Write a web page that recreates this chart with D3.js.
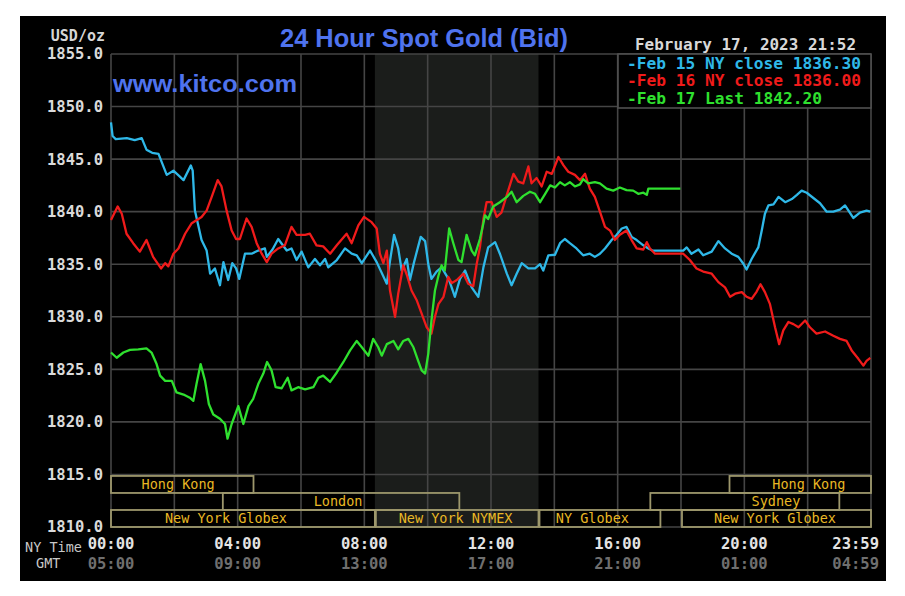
<!DOCTYPE html>
<html>
<head>
<meta charset="utf-8">
<script src="https://cdn.jsdelivr.net/npm/d3@7"></script>
<style>
  html, body { margin: 0; padding: 0; background: #ffffff; }
  svg { display: block; }
</style>
</head>
<body>
<svg id="chart" width="905" height="596"></svg>
<script>
// ---------------- DATA ----------------
const yTicks = [1855, 1850, 1845, 1840, 1835, 1830, 1825, 1820, 1815, 1810];
const gridHours = [0, 2, 4, 6, 8, 10, 12, 14, 16, 18, 20, 22, 24];
const labelHours = [0, 4, 8, 12, 16, 20, 24];
const nyTimeLabels = ["00:00", "04:00", "08:00", "12:00", "16:00", "20:00", "23:59"];
const gmtLabels = ["05:00", "09:00", "13:00", "17:00", "21:00", "01:00", "04:59"];

const nymexStart = 8.333, nymexEnd = 13.5;

const sessionNames = ["Hong Kong", "Hong Kong", "London", "Sydney", "New York Globex", "New York NYMEX", "NY Globex", "New York Globex"];
const sessionStart = [0, 19.5, 3.5, 17, 0, 8.333, 13.5, 18];
const sessionEnd   = [4.5, 24, 11, 23, 8.333, 13.5, 17.35, 24];
const sessionRow   = [0, 0, 1, 1, 2, 2, 2, 2];
const sessionLabelHour = [2.12, 22.04, 7.17, 21.0, 3.63, 10.88, 15.2, 20.97];

const seriesNames = ["Feb 15 NY close 1836.30", "Feb 16 NY close 1836.00", "Feb 17 Last 1842.20"];

// [hour (NY time), price]
const feb15 = [[0.00,1848.5],[0.05,1847.2],[0.15,1846.9],[0.5,1847.0],[0.75,1846.8],[0.97,1847.0],[1.12,1845.9],[1.3,1845.6],[1.5,1845.5],[1.76,1843.5],[1.97,1843.9],[2.15,1843.4],[2.29,1843.0],[2.52,1844.4],[2.58,1843.9],[2.65,1840.1],[2.86,1837.3],[3.02,1836.3],[3.13,1834.1],[3.28,1834.6],[3.44,1833.0],[3.55,1835.2],[3.70,1833.5],[3.83,1835.1],[3.95,1834.6],[4.05,1833.6],[4.23,1836.0],[4.44,1836.0],[4.65,1836.3],[4.86,1836.5],[4.92,1835.7],[5.10,1836.4],[5.28,1837.4],[5.55,1836.3],[5.70,1836.5],[5.86,1835.4],[6.02,1836.2],[6.23,1834.7],[6.44,1835.5],[6.6,1834.9],[6.76,1835.5],[6.86,1834.7],[7.13,1835.4],[7.39,1836.5],[7.6,1836.0],[7.76,1835.85],[7.92,1835.1],[8.18,1836.3],[8.39,1835.2],[8.71,1833.15],[8.81,1835.3],[8.94,1837.8],[9.07,1836.5],[9.18,1834.4],[9.34,1835.5],[9.44,1833.5],[9.57,1835.2],[9.78,1837.6],[9.92,1837.2],[10.02,1835.0],[10.12,1833.6],[10.28,1834.3],[10.44,1834.7],[10.6,1833.9],[10.7,1833.3],[10.86,1831.9],[11.02,1833.6],[11.18,1834.4],[11.39,1832.8],[11.6,1831.9],[11.76,1834.7],[11.91,1836.6],[12.13,1837.1],[12.28,1836.0],[12.5,1834.1],[12.65,1833.0],[12.81,1834.1],[12.97,1835.1],[13.18,1834.6],[13.39,1834.6],[13.55,1835.0],[13.65,1834.4],[13.81,1835.85],[14.02,1835.9],[14.18,1837.0],[14.33,1837.4],[14.49,1837.0],[14.7,1836.5],[14.91,1835.85],[15.12,1836.0],[15.28,1835.7],[15.44,1836.0],[15.6,1836.5],[15.81,1837.3],[15.97,1837.8],[16.13,1838.4],[16.28,1838.55],[16.44,1837.6],[16.6,1837.3],[16.81,1836.8],[16.97,1836.5],[17.1,1836.3],[18.07,1836.3],[18.18,1836.6],[18.33,1836.0],[18.55,1836.4],[18.7,1835.85],[18.97,1836.2],[19.18,1837.2],[19.39,1836.5],[19.6,1836.0],[19.81,1835.7],[19.97,1835.05],[20.07,1834.5],[20.23,1835.5],[20.44,1836.6],[20.55,1838.2],[20.65,1839.8],[20.76,1840.6],[20.92,1840.7],[21.08,1841.4],[21.29,1840.9],[21.5,1841.2],[21.66,1841.6],[21.81,1842.0],[21.97,1841.8],[22.18,1841.3],[22.39,1840.8],[22.6,1840.0],[22.81,1840.0],[23.02,1840.2],[23.18,1840.6],[23.44,1839.4],[23.65,1839.9],[23.86,1840.1],[23.98,1840.0]];

const feb16 = [[0.00,1839.2],[0.21,1840.5],[0.34,1839.8],[0.49,1837.9],[0.7,1837.0],[0.91,1836.2],[1.12,1837.3],[1.33,1835.7],[1.58,1834.6],[1.71,1835.1],[1.81,1834.8],[1.97,1836.0],[2.13,1836.5],[2.34,1837.9],[2.55,1838.9],[2.86,1839.5],[3.02,1840.1],[3.18,1841.4],[3.37,1843.0],[3.49,1842.4],[3.65,1840.1],[3.81,1838.2],[3.95,1837.4],[4.07,1837.4],[4.28,1839.35],[4.44,1838.55],[4.6,1837.0],[4.76,1836.0],[4.92,1835.2],[5.07,1836.0],[5.28,1836.5],[5.49,1836.8],[5.7,1838.55],[5.86,1837.8],[6.13,1837.8],[6.28,1837.9],[6.49,1836.8],[6.7,1836.7],[6.92,1836.0],[7.13,1836.8],[7.44,1837.9],[7.6,1837.0],[7.81,1838.7],[7.99,1839.5],[8.23,1839.0],[8.39,1838.4],[8.49,1836.0],[8.6,1835.1],[8.71,1836.3],[8.81,1832.5],[8.97,1830.0],[9.07,1832.2],[9.23,1834.9],[9.34,1834.0],[9.49,1832.5],[9.65,1831.6],[9.81,1830.3],[9.97,1829.0],[10.12,1828.4],[10.23,1830.0],[10.34,1831.2],[10.5,1831.9],[10.65,1833.8],[10.76,1833.2],[10.92,1833.5],[11.13,1834.1],[11.28,1833.15],[11.44,1832.9],[11.55,1835.05],[11.65,1836.6],[11.76,1839.3],[11.86,1840.9],[12.02,1840.9],[12.18,1839.5],[12.33,1839.9],[12.5,1841.6],[12.71,1843.6],[12.86,1842.85],[13.02,1842.7],[13.18,1844.3],[13.28,1842.7],[13.44,1843.2],[13.6,1842.4],[13.76,1843.8],[13.92,1843.6],[14.13,1845.2],[14.29,1844.4],[14.44,1843.8],[14.65,1843.5],[14.81,1843.0],[14.97,1843.6],[15.12,1842.2],[15.28,1841.4],[15.44,1840.0],[15.6,1838.55],[15.76,1838.2],[15.91,1837.3],[16.07,1837.8],[16.28,1838.2],[16.44,1837.3],[16.6,1836.5],[16.81,1836.4],[16.92,1837.1],[17.02,1836.5],[17.18,1836.0],[18.07,1836.0],[18.28,1835.4],[18.49,1834.6],[18.7,1834.3],[18.97,1834.1],[19.18,1833.3],[19.39,1832.8],[19.55,1831.9],[19.71,1832.2],[19.92,1832.35],[20.07,1831.9],[20.23,1831.7],[20.39,1832.4],[20.51,1833.1],[20.65,1832.35],[20.81,1831.2],[20.97,1829.0],[21.1,1827.4],[21.23,1828.7],[21.39,1829.5],[21.55,1829.3],[21.71,1829.0],[21.92,1829.65],[22.07,1829.0],[22.28,1828.4],[22.55,1828.6],[22.81,1828.2],[23.02,1827.9],[23.23,1827.7],[23.39,1826.8],[23.6,1826.0],[23.76,1825.35],[23.86,1825.8],[23.98,1826.1]];

const feb17 = [[0.00,1826.6],[0.18,1826.1],[0.39,1826.6],[0.6,1826.85],[0.86,1826.9],[1.12,1827.0],[1.28,1826.6],[1.44,1825.5],[1.55,1824.4],[1.71,1823.9],[1.92,1823.9],[2.07,1822.8],[2.29,1822.6],[2.49,1822.3],[2.6,1822.0],[2.7,1823.6],[2.83,1825.5],[2.97,1823.9],[3.09,1821.7],[3.23,1820.7],[3.44,1820.3],[3.6,1819.8],[3.68,1818.4],[3.81,1819.8],[4.02,1821.5],[4.18,1819.8],[4.34,1821.5],[4.49,1822.2],[4.65,1823.6],[4.81,1824.6],[4.93,1825.7],[5.07,1824.9],[5.2,1823.3],[5.39,1823.2],[5.58,1824.2],[5.7,1823.0],[5.91,1823.3],[6.13,1823.1],[6.39,1823.3],[6.55,1824.2],[6.7,1824.4],[6.92,1823.8],[7.13,1824.7],[7.34,1825.7],[7.55,1826.8],[7.76,1827.7],[7.92,1827.1],[8.13,1826.3],[8.28,1827.9],[8.44,1827.1],[8.55,1826.3],[8.71,1827.4],[8.92,1827.7],[9.07,1826.9],[9.23,1827.7],[9.39,1827.9],[9.55,1827.1],[9.7,1825.8],[9.81,1824.9],[9.92,1824.6],[10.02,1826.5],[10.12,1829.65],[10.23,1832.5],[10.34,1833.9],[10.44,1834.9],[10.54,1834.4],[10.68,1838.4],[10.81,1837.0],[10.97,1835.4],[11.07,1835.2],[11.23,1837.8],[11.39,1836.3],[11.49,1835.85],[11.65,1837.4],[11.76,1838.9],[11.81,1839.65],[11.91,1839.3],[12.07,1840.5],[12.28,1840.9],[12.5,1841.4],[12.65,1841.9],[12.81,1840.9],[13.02,1841.5],[13.23,1841.9],[13.39,1841.7],[13.55,1840.9],[13.71,1841.7],[13.87,1842.5],[14.02,1842.3],[14.18,1842.8],[14.33,1842.5],[14.49,1842.8],[14.65,1842.4],[14.81,1842.6],[14.91,1843.1],[15.07,1842.7],[15.28,1842.8],[15.44,1842.7],[15.65,1842.2],[15.86,1842.0],[16.07,1842.3],[16.28,1842.05],[16.49,1842.0],[16.65,1841.7],[16.81,1841.8],[16.92,1841.6],[16.97,1842.2],[17.98,1842.2]];

// ---------------- DRAW ----------------
const svg = d3.select("#chart");
const W = 905, H = 596;
const plot = { left: 111, right: 871, top: 54, bottom: 527 };

const x = d3.scaleLinear().domain([0, 24]).range([plot.left, plot.right]);
const y = d3.scaleLinear().domain([1810, 1855]).range([plot.bottom, plot.top]);

const mono = "'DejaVu Sans Mono', 'Liberation Mono', monospace";
const sans = "'Liberation Sans', Arial, sans-serif";

// black panel
svg.append("rect").attr("x", 20).attr("y", 16).attr("width", 866).attr("height", 565).attr("fill", "#000000");

// NYMEX shaded region
svg.append("rect")
  .attr("x", x(nymexStart)).attr("y", y(1855))
  .attr("width", x(nymexEnd) - x(nymexStart)).attr("height", y(1810) - y(1855))
  .attr("fill", "#1b1d1b");

// grid
const grid = svg.append("g").attr("stroke", "#454545").attr("stroke-width", 1.6);
grid.selectAll("line.h").data(yTicks).join("line")
  .attr("x1", plot.left).attr("x2", plot.right)
  .attr("y1", d => y(d)).attr("y2", d => y(d));
grid.selectAll("line.v").data(gridHours).join("line")
  .attr("x1", d => x(d)).attr("x2", d => x(d))
  .attr("y1", y(1855)).attr("y2", y(1810));

// session boxes
const rowTop = y(1815) + 1.5;
const rowH = (y(1810) - y(1815) - 1.5) / 3;
const sessions = sessionNames.map((n, i) => ({ name: n, s: sessionStart[i], e: sessionEnd[i], row: sessionRow[i], lh: sessionLabelHour[i] }));
const sg = svg.append("g");
sg.selectAll("rect").data(sessions).join("rect")
  .attr("x", d => x(d.s) + (d.s > 0 ? 1 : 0))
  .attr("y", d => rowTop + d.row * rowH)
  .attr("width", d => x(d.e) - x(d.s) - (d.s > 0 ? 1 : 0))
  .attr("height", rowH)
  .attr("fill", "none")
  .attr("stroke", "#9d976c")
  .attr("stroke-width", 1.8);
sg.selectAll("text").data(sessions).join("text")
  .attr("x", d => x(d.lh))
  .attr("y", d => rowTop + d.row * rowH + rowH / 2)
  .attr("dy", "0.36em")
  .attr("text-anchor", "middle")
  .attr("font-family", mono)
  .attr("font-size", "13.5px")
  .attr("fill", "#e9b824")
  .text(d => d.name);

// series lines
const line = d3.line().x(d => x(d[0])).y(d => y(d[1]));
const seriesData = [feb15, feb16, feb17];
const seriesColors = ["#2fb8e8", "#f01b1b", "#2fe02f"];
svg.append("g").selectAll("path").data(seriesData).join("path")
  .attr("d", line)
  .attr("fill", "none")
  .attr("stroke", (d, i) => seriesColors[i])
  .attr("stroke-width", 2.3)
  .attr("stroke-linejoin", "round");

// y axis labels
const yAxis = d3.axisLeft(y).tickValues(yTicks).tickFormat(d3.format(".1f")).tickSize(0).tickPadding(8);
const yg = svg.append("g").attr("transform", `translate(${plot.left},0)`).call(yAxis);
yg.select(".domain").remove();
yg.selectAll("text")
  .attr("font-family", mono).attr("font-size", "15.5px").attr("font-weight", "bold")
  .attr("fill", "#dadada");

svg.append("text").attr("x", 105).attr("y", 41).attr("text-anchor", "end")
  .attr("font-family", mono).attr("font-size", "15px").attr("font-weight", "bold")
  .attr("fill", "#d6d6d6").text("USD/oz");

// x labels
const xl = svg.append("g");
xl.selectAll("text.ny").data(labelHours).join("text")
  .attr("class", "ny")
  .attr("x", (d, i) => i === labelHours.length - 1 ? x(d) + 8 : x(d))
  .attr("y", 548.5)
  .attr("text-anchor", (d, i) => i === labelHours.length - 1 ? "end" : "middle")
  .attr("font-family", mono).attr("font-size", "15.5px").attr("font-weight", "bold")
  .attr("fill", "#e4e4e4")
  .text((d, i) => nyTimeLabels[i]);
xl.selectAll("text.gmt").data(labelHours).join("text")
  .attr("class", "gmt")
  .attr("x", (d, i) => i === labelHours.length - 1 ? x(d) + 8 : x(d))
  .attr("y", 568.5)
  .attr("text-anchor", (d, i) => i === labelHours.length - 1 ? "end" : "middle")
  .attr("font-family", mono).attr("font-size", "15.5px").attr("font-weight", "bold")
  .attr("fill", "#6f6f6f")
  .text((d, i) => gmtLabels[i]);
svg.append("text").attr("x", 82).attr("y", 551.5).attr("text-anchor", "end")
  .attr("font-family", mono).attr("font-size", "13.5px").attr("fill", "#c8c8c8").text("NY Time");
svg.append("text").attr("x", 36).attr("y", 568).attr("text-anchor", "start")
  .attr("font-family", mono).attr("font-size", "13.5px").attr("fill", "#c8c8c8").text("GMT");

// title & watermark
svg.append("text").attr("x", 280).attr("y", 47)
  .attr("font-family", sans).attr("font-size", "25px").attr("font-weight", "bold")
  .attr("fill", "#4f73ee").attr("textLength", 288).attr("lengthAdjust", "spacingAndGlyphs")
  .text("24 Hour Spot Gold (Bid)");
svg.append("text").attr("x", 113).attr("y", 92)
  .attr("font-family", sans).attr("font-size", "24px").attr("font-weight", "bold")
  .attr("fill", "#4f73ee").attr("textLength", 184).attr("lengthAdjust", "spacingAndGlyphs")
  .text("www.kitco.com");

// date
svg.append("text").attr("x", 635).attr("y", 49.5)
  .attr("font-family", mono).attr("font-size", "15.5px").attr("font-weight", "bold")
  .attr("fill", "#d8d8d8").attr("textLength", 221).attr("lengthAdjust", "spacingAndGlyphs")
  .text("February 17, 2023 21:52");

// legend
svg.append("rect").attr("x", 618).attr("y", 54).attr("width", 253).attr("height", 54)
  .attr("fill", "#000000").attr("stroke", "#505050").attr("stroke-width", 1.6);
const legendBaselines = [68.5, 86, 103.5];
const legendWidths = [234, 234, 195];
svg.append("g").selectAll("text").data(seriesNames).join("text")
  .attr("x", 627).attr("y", (d, i) => legendBaselines[i])
  .attr("font-family", mono).attr("font-size", "16px").attr("font-weight", "bold")
  .attr("fill", (d, i) => seriesColors[i])
  .attr("textLength", (d, i) => legendWidths[i]).attr("lengthAdjust", "spacingAndGlyphs")
  .text(d => "-" + d);
</script>
</body>
</html>
